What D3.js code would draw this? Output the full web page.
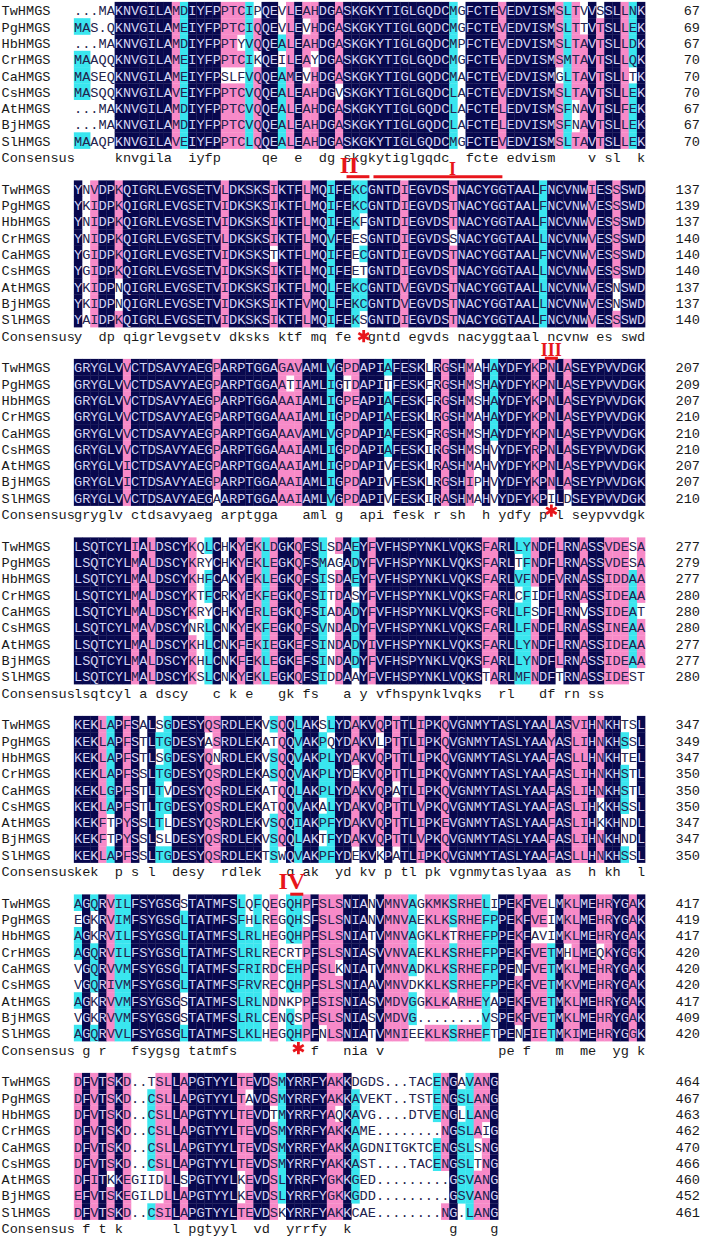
<!DOCTYPE html>
<html><head><meta charset="utf-8">
<title>HMGS alignment</title>
<script src="https://cdn.jsdelivr.net/npm/d3@7"></script>
<style>body{margin:0;background:#fff;} svg{display:block;}</style>
</head><body>
<svg id="chart" width="703" height="1238"></svg>
<script>
const seqNames = ["TwHMGS","PgHMGS","HbHMGS","CrHMGS","CaHMGS","CsHMGS","AtHMGS","BjHMGS","SlHMGS"];

const block1 = [
"...MAKNVGILAMDIYFPPTCIPQEVLEAHDGASKGKYTIGLGQDCMGFCTEVEDVISMSLTVVSSLLNK",
"MAS.QKNVGILAMEIYFPPTCIQQEVLEVHDGASKGKYTIGLGQDCMGFCTEVEDVISMSLTTVTSLLEK",
"...MAKNVGILAMDIYFPPTYVQQEALEAHDGASKGKYTIGLGQDCMPFCTEVEDVISMSLTAVTSLLDK",
"MAAQQKNVGILAMEIYFPPTCIKQEILEAYDGASKGKYTIGLGQDCMGFCTEVEDVISMSMTAVTSLLQK",
"MASEQKNVGILAMEIYFPSLFVQQEAMEVHDGASKGKYTIGLGQDCMAFCTEVEDVISMGLTAVTSLLTK",
"MASQQKNVGILAVEIYFPPTCVQQEALEAHDGVSKGKYTIGLGQDCLAFCTEVEDVISMSLTAVTSLLEK",
"...MAKNVGILAMDIYFPPTCVQQEALEAHDGASKGKYTIGLGQDCLAFCTELEDVISMSFNAVTSLFEK",
"...MAKNVGILAMDIYFPPTCVQQEALEAHDGASKGKYTIGLGQDCLAFCTELEDVISMSFNAVTSLLEK",
"MAAQPKNVGILAVEIYFPPTCLQQEALEAHDGASKGKYTIGLGQDCMGFCTEVEDVISMSLTAVTSLLEK"];
const block2 = [
"YNVDPKQIGRLEVGSETVLDKSKSIKTFLMQIFEKCGNTDIEGVDSTNACYGGTAALFNCVNWIESSSWD",
"YKIDPKQIGRLEVGSETVIDKSKSIKTFLMQIFEKCGNTDIEGVDSTNACYGGTAALFNCVNWVESSSWD",
"YNIDPKQIGRLEVGSETVIDKSKSIKTFLMQIFEKFGNTDIEGVDSTNACYGGTAALFNCVNWVESSSWD",
"YNIDPKQIGRLEVGSETVLDKSKSIKTFLMQVFEESGNTDIEGVDSSNACYGGTAALLNCVNWVESSSWD",
"YGIDPKQIGRLEVGSETVIDKSKSTKTFLMQIFEECGNTDIEGVDSTNACYGGTAALFNCVNWVESSSWD",
"YGIDPKQIGRLEVGSETVIDKSKSIKTFLMQIFEETGNTDIEGVDSTNACYGGTAALLNCVNWVESSSWD",
"YKIDPNQIGRLEVGSETVIDKSKSIKTFLMQLFEKCGNTDVEGVDSTNACYGGTAALLNCVNWVESNSWD",
"YKIDPNQIGRLEVGSETVIDKSKSIKTFVMQLFEKCGNTDVEGVDSTNACYGGTAALLNCVNWVESNSWD",
"YAIDPKQIGRLEVGSETVIDKSKSIKTFLMQIFEKSGNTDIEGVDSTNACYGGTAALFNCVNWVESSSWD"];
const block3 = [
"GRYGLVVCTDSAVYAEGPARPTGGAGAVAMLVGPDAPIAFESKLRGSHMAHAYDFYKPNLASEYPVVDGK",
"GRYGLVVCTDSAVYAEGPARPTGGAATIAMLIGTDAPITFESKFRGSHMSHAYDFYKPNLASEYPVVDGK",
"GRYGLVVCTDSAVYAEGPARPTGGAAAIAMLIGPEAPIAFESKFRGSHMSHAYDFYKPNLASEYPVVDGK",
"GRYGLVVCTDSAVYAEGPARPTGGAAAIAMLIGPDAPIAFESKLRGSHMAHAYDFYKPNLASEYPVVDGK",
"GRYGLVVCTDSAVYAEGPARPTGGAAAVAMLVGPDAPIAFESKFRGSHMSHAYDFYKPNLASEYPVVDGK",
"GRYGLVVCTDSAVYAEGPARPTGGAAAIAMLIGPDAPIAFESKIRGSHMSHVYDFYRPNLASEYPVVDGK",
"GRYGLVICTDSAVYAEGPARPTGGAAAIAMLIGPDAPIVFESKLRASHMAHVYDFYKPNLASEYPVVDGK",
"GRYGLVICTDSAVYAEGPARPTGGAAAIAMLIGPDAPIVFESKLRGSHIPHVYDFYKPNLASEYPVVDGK",
"GRYGLVVCTDSAVYAEGAARPTGGAAAIAMLVGPDAPIVFESKIRASHMAHVYDFYKPILDSEYPVVDGK"];
const block4 = [
"LSQTCYLIALDSCYKQLCHKYEKLDGKQFSLSDAEYFVFHSPYNKLVQKSFARLLYNDFLRNASSVDESA",
"LSQTCYLMALDSCYKRYCHKYEKLEGKQFSMAGADYFVFHSPYNKLVQKSFARLTFNDFLRNASSVDESA",
"LSQTCYLMALDSCYKHFCAKYEKLEGKQFSISDAEYFVFHSPYNKLVQKSFARLVFNDFVRNASSIDDAA",
"LSQTCYLMALDSCYKTFCRKYEKFEGKQFSITDASYFVFHSPYNKLVQKSFARLCFIDFLRNASSIDEAA",
"LSQTCYLMALDSCYKRYCHKYERLEGKQFSIADADYFVFHSPYNKLVQKSFGRLLFSDFLRNVSSIDEAT",
"LSQTCYLMAVDSCYNRLCNKYEKFEGKQFSVNDADYFVFHSPYNKLVQKSFARLLFNDFLRNASSINEAA",
"LSQTCYLMALDSCYKHLCNKFEKIEGKEFSINDADYIVFHSPYNKLVQKSFARLLYNDFLRNASSIDEAA",
"LSQTCYLMALDSCYKHLCNKFEKLEGKEFSINDADYFVFHSPYNKLVQKSFARLLYNDFLRNASSIDEAA",
"LSQTCYLMALDSCYKSLCNKYEKLEGKQFSIDDAAYFVFHSPYNKLVQKSTARLMFNDFTRNASSIDEST"];
const block5 = [
"KEKLAPFSALSGDESYQSRDLEKVSQQLAKSLYDAKVQPTTLIPKQVGNMYTASLYAALASVIHNKHTSL",
"KEKLAPFSTLTGDESYASRDLEKATQQVAKPQYDAKVLPTTLIPKQVGNMYTASLYAAYASLIHNKHSSL",
"KEKLAPFSTLSGDESYQNRDLEKVSQQVAKPLYDAKVQPTTLIPKQVGNMYTASLYAAFASLLHNKHTEL",
"KEKLAPFSSLTGDESYQSRDLEKASQQVAKPLYDEKVQPTTLIPKQVGNMYTASLYAAFASLIHNKHSTL",
"KEKLGPFSTLTVDESYQSRDLEKATQQLAKPLYDAKVQPATLIPKQVGNMYTASLYAAFASLIHNKHSTL",
"KEKLAPFSTLTGDESYQSRDLEKATQQVAKALYDAKVQPTTLVPKQVGNMYTASLYAAFASLIHKKHSSL",
"KEKFTPYSSLTLDESYQSRDLEKVSQQIAKPFYDAKVQPTTLIPKEVGNMYTASLYAAFASLIHKKHNDL",
"KEKFTPYSSLSLDESYQSRDLEKVSQQLAKTFYDAKVQPTTLVPKQVGNMYTASLYAAFASLIHNKHNDL",
"KEKLAPFSSLTGDESYQSRDLEKTSWQVAKPFYDEKVKPATLIPKQVGNMYTASLYAAFASLLHNKHSSL"];
const block6 = [
"AGQRVILFSYGSGSTATMFSLQFQEGQHPFSLSNIANVMNVAGKMKSRHELIPEKFVELMKLMEHRYGAK",
"EGKRVIMFSYGSGLTATMFSFHLREGQHSFSLSNIANVMNVAEKLKSRHEFPPEKFVEIMKLMEHRYGAK",
"AGKRVILFSYGSGLTATMFSLRLHEGQHPFSLSNIATVMNVAGKLKTRHEFPPEKFAVIMKLMEHRYGAK",
"AGQRVILFSYGSGLTATMFSLRLRECRTPFSLSNIASVVNVAEKLKSRHEFPPEKFVETMHLMEQKYGGK",
"VGQRVVMFSYGSGLTATMFSFRIRDCEHPFSLKNIATVMNVADKLKSRHEFPPENFVETMKLMEHRYGAK",
"VGQRIVMFSYGSGLTATMFSFRVRECQHPFSLSNIAAVMNVDKKLKSRHEFPPEKFVETMKVMEHRYGAK",
"AGKRVVMFSYGSGSTATMFSLRLNDNKPPFSISNIASVMDVGGKLKARHEYAPEKFVETMKLMEHRYGAK",
"VGKRVVMFSYGSGSTATMFSLRLCENQSPFSLSNIASVMDVG........VSPEKFVETMKLMEHRYGAK",
"AGQRVVLFSYGSGLTATMFSLKLHEGQHPFNLSNIATVMNIEEKLKSRHEFTPENFIETMKIMEHRYGGK"];
const block7 = [
"DFVTSKD..TSLLAPGTYYLTEVDSMYRRFYAKKDGDS...TACENGAVANG",
"DFVTSKD..CSLLAPGTYYLTAVDSMYRRFYAKKAVEKT..TSTENGSLANG",
"DFVTSKD..CSLLAPGTYYLTEVDTMYRRFYAQKAVG....DTVENGLLANG",
"DFVTSKD..CSLLAPGTYYLTEVDSMYRRFYAKKAME........NGSLAIG",
"DFVTSKD..CSLLAPGTYYLTEVDSMYRRFYAKKAGDNITGKTCENGSLSNG",
"DFVTSKD..CSLLAPGTYYLTEVDSMYRRFYAKKAST....TACENGSLTNG",
"DFITKKEGIIDLLSPGTYYLKEVDSLYRRFYGKKGED.........GSVANG",
"EFVTSKEGILDLLAPGTYYLKEVDSLYRRFYGKKGDD.........GSVANG",
"DFVTSKD..CSILAPGTYYLTEVDSKYRRFYAKKCAE........NG.LANG"];

const ends1 = [67,69,67,70,70,70,67,67,70];
const ends2 = [137,139,137,140,140,140,137,137,140];
const ends3 = [207,209,207,210,210,210,207,207,210];
const ends4 = [277,279,277,280,280,280,277,277,280];
const ends5 = [347,349,347,350,350,350,347,347,350];
const ends6 = [417,419,417,420,420,420,417,409,420];
const ends7 = [464,467,463,462,470,466,460,452,461];

// similarity groups used for shading
const simGroups = ["ILVMF","FYW","DENQ","KR","AG"];
// annotation labels (roman numerals) and catalytic-site stars
const romanLabels = [
  {block:0, text:"II",  col:33.7, size:24, dy:15},
  {block:0, text:"I",   col:46.4, size:18, dy:17.5},
  {block:1, text:"III", col:58.5, size:18, dy:20},
  {block:4, text:"IV",  col:26.7, size:24, dy:17.5}
];
const romanLines = [
  {block:0, c0:33.4, c1:36.2, dy:19},
  {block:0, c0:36.7, c1:52.5, dy:19},
  {block:1, c0:57.7, c1:59.3, dy:22},
  {block:4, c0:26.5, c1:28.1, dy:22.5}
];
const starMarks = [
  {block:1, col:35, dy:0},
  {block:2, col:58, dy:-4},
  {block:5, col:27, dy:-2}
];

const blocks = [block1,block2,block3,block4,block5,block6,block7];
const ends = [ends1,ends2,ends3,ends4,ends5,ends6,ends7];

const COLW = 8.16, ROWH = 16.3, BLOCKH = 178.5, TOP = 11, X0 = 74;
const FONT = "'Liberation Mono','Courier New',monospace";
const FS = 13.6;
const NAVY = "#08084e", PINK = "#f78ac8", CYAN = "#3ae6ef";

const svg = d3.select("#chart");
svg.append("rect").attr("width",703).attr("height",1238).attr("fill","#fff");

const x = d3.scaleLinear().domain([0,70]).range([X0, X0 + 70*COLW]);
const rowNames = seqNames.concat(["Consensus"]);
const yRow = d3.scalePoint().domain(rowNames).range([0, 9*ROWH]);
const yBlock = d3.scaleLinear().domain([0,1]).range([TOP, TOP+BLOCKH]);

function similar(a,b){ return a===b || simGroups.some(g => g.includes(a) && g.includes(b)); }

function analyse(seqs){
  const n = seqs[0].length;
  const cols = [];
  for (let c=0;c<n;c++){
    const chars = seqs.map(s => s[c]);
    const cnt = d3.rollup(chars.filter(ch => ch !== "."), v => v.length, d => d);
    let best = null, bc = 0;
    for (const [k,v] of cnt) if (v > bc){ bc = v; best = k; }
    let level = null;
    if (bc === seqs.length) level = "navy";
    else if (bc >= 7) level = "pink";
    else if (bc >= 5) level = "cyan";
    cols.push({best, count: bc, level});
  }
  return cols;
}

blocks.forEach((seqs, b) => {
  const g = svg.append("g").attr("transform", `translate(0,${yBlock(b)})`);
  const cols = analyse(seqs);
  const cells = [];
  seqs.forEach((s, r) => {
    for (let c=0;c<s.length;c++){
      const ch = s[c], info = cols[c];
      let fill = null;
      if (info.level && ch !== "." && similar(ch, info.best)) {
        fill = info.level === "navy" ? NAVY : info.level === "pink" ? PINK : CYAN;
      }
      cells.push({r, c, ch, fill, navy: info.level === "navy"});
    }
  });
  g.selectAll("rect.cell").data(cells.filter(d => d.fill)).join("rect")
    .attr("class","cell")
    .attr("x", d => x(d.c) - 0.15)
    .attr("y", d => yRow(seqNames[d.r]) - 9.1)
    .attr("width", COLW + 0.3)
    .attr("height", ROWH + 0.3)
    .attr("fill", d => d.fill);
  g.selectAll("text.res").data(cells).join("text")
    .attr("class","res")
    .attr("x", d => x(d.c + 0.5))
    .attr("y", d => yRow(seqNames[d.r]) + 4.3)
    .attr("text-anchor","middle")
    .attr("font-family", FONT).attr("font-size", FS)
    .attr("fill", d => d.navy ? "#d4d4f2" : "#23234e")
    .text(d => d.ch);
  g.selectAll("text.name").data(rowNames).join("text")
    .attr("class","name")
    .attr("x", 1.5).attr("y", d => yRow(d) + 4.3)
    .attr("font-family", FONT).attr("font-size", FS).attr("fill","#1a1a1a")
    .text(d => d);
  const cons = cols.map((c,i) => ({i, ch: c.level === "navy" ? c.best.toLowerCase() : ""})).filter(d => d.ch);
  g.selectAll("text.cons").data(cons).join("text")
    .attr("class","cons")
    .attr("x", d => x(d.i + 0.5)).attr("y", yRow("Consensus") + 4.3)
    .attr("text-anchor","middle")
    .attr("font-family", FONT).attr("font-size", FS).attr("fill","#1a1a1a")
    .text(d => d.ch);
  g.selectAll("text.num").data(ends[b]).join("text")
    .attr("class","num")
    .attr("x", 700).attr("y", (d,i) => yRow(seqNames[i]) + 4.3)
    .attr("text-anchor","end")
    .attr("font-family", FONT).attr("font-size", FS).attr("fill","#1a1a1a")
    .text(d => d);
});

const RED = "#e8151b";
const consY = b => yBlock(b) + yRow("Consensus");
svg.selectAll("text.roman").data(romanLabels).join("text")
  .attr("class","roman")
  .attr("x", d => x(d.col)).attr("y", d => consY(d.block) + d.dy)
  .attr("text-anchor","middle")
  .attr("font-family","'Liberation Serif','Times New Roman',serif")
  .attr("font-weight","bold").attr("font-size", d => d.size)
  .attr("fill", RED).text(d => d.text);
svg.selectAll("line.roman").data(romanLines).join("line")
  .attr("class","roman")
  .attr("x1", d => x(d.c0)).attr("x2", d => x(d.c1))
  .attr("y1", d => consY(d.block) + d.dy).attr("y2", d => consY(d.block) + d.dy)
  .attr("stroke", RED).attr("stroke-width", 3);
const star = d3.symbol().type(d3.symbolAsterisk).size(105);
svg.selectAll("path.star").data(starMarks).join("path")
  .attr("class","star")
  .attr("transform", d => `translate(${x(d.col + 0.5)},${consY(d.block) + d.dy})`)
  .attr("d", star())
  .attr("fill","none").attr("stroke", RED).attr("stroke-width", 2.8);
</script>
</body></html>
